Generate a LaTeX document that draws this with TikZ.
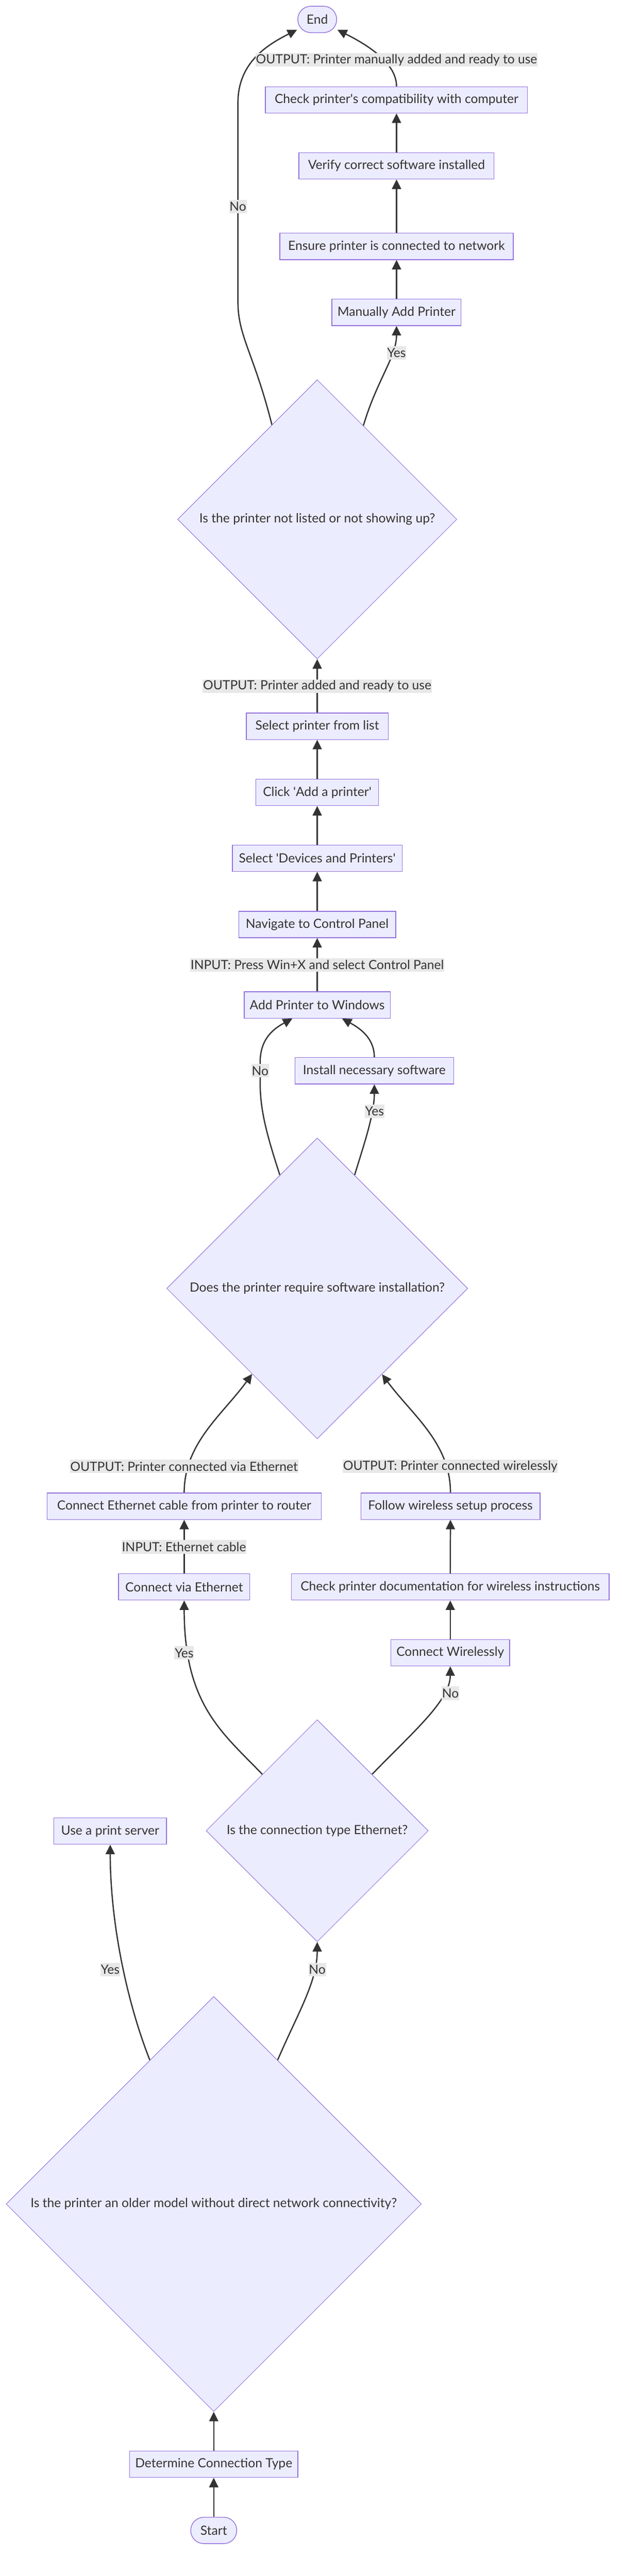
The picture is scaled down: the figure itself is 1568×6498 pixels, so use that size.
\documentclass[tikz,border=0pt]{standalone}
\usepackage{fontspec}
\setmainfont{Lato}
\usetikzlibrary{arrows.meta,shapes.geometric,calc}
\definecolor{nfill}{HTML}{ECECFF}
\definecolor{nborder}{HTML}{9370DB}
\definecolor{ntext}{HTML}{333333}
\definecolor{elabel}{HTML}{E8E8E8}
\pgfdeclarelayer{bglayer}
\pgfdeclarelayer{edgelayer}
\pgfsetlayers{bglayer,edgelayer,main}
\newcommand\nfont{\fontsize{32}{38}\selectfont}
\tikzset{
 proc/.style={rectangle, draw=nborder, fill=nfill, line width=1.8pt, minimum height=66.5pt, inner xsep=14pt, inner ysep=0pt, text=ntext, font=\nfont},
 term/.style={proc, rounded corners=33pt},
 decision/.style={diamond, aspect=1, draw=nborder, fill=nfill, line width=1.3pt, inner sep=0pt, text=ntext, font=\nfont},
 elab/.style={fill=elabel, text=ntext, font=\nfont, inner xsep=1pt, inner ysep=0pt, minimum height=34pt},
 flow/.style={draw=ntext, line width=3.2pt, -{Triangle[length=24pt,width=23pt]}},
}
\begin{document}
\begin{tikzpicture}[x=1pt,y=-1pt]
\begin{pgfonlayer}{bglayer}
\fill[white] (0,0) rectangle (1568,6498);
\end{pgfonlayer}
\useasboundingbox (0,0) rectangle (1568,6498);
% nodes
\node[term, minimum width=98pt] (endn) at (800,49) {End};
\node[proc, minimum width=661pt] (chk) at (1000,252) {Check printer\textquotesingle s compatibility with computer};
\node[proc, minimum width=492pt] (ver) at (1000,418.5) {Verify correct software installed};
\node[proc, minimum width=589pt] (ens) at (1000,621.5) {Ensure printer is connected to network};
\node[proc, minimum width=325pt] (map) at (1000,788) {Manually Add Printer};
\node[decision, minimum width=704pt, minimum height=704pt] (d1) at (800,1310) {\makebox[0pt]{Is the printer not listed or not showing up?}};
\node[proc, minimum width=358pt] (spl) at (800,1832) {Select printer from list};
\node[proc, minimum width=309pt] (cap) at (800,1999) {Click \textquotesingle Add a printer\textquotesingle};
\node[proc, minimum width=428pt] (sdp) at (800,2165) {Select \textquotesingle Devices and Printers\textquotesingle};
\node[proc, minimum width=396pt] (nav) at (800,2332) {Navigate to Control Panel};
\node[proc, minimum width=365.5pt] (apw) at (800,2535) {Add Printer to Windows};
\node[proc, minimum width=400pt] (isw) at (944,2701) {Install necessary software};
\node[decision, minimum width=759pt, minimum height=759pt] (d2) at (800,3250) {\makebox[0pt]{Does the printer require software installation?}};
\node[proc, minimum width=691pt] (cec) at (464.5,3799.5) {Connect Ethernet cable from printer to router};
\node[proc, minimum width=452pt] (fws) at (1136,3799.5) {Follow wireless setup process};
\node[proc, minimum width=331pt] (cve) at (464.5,4003) {Connect via Ethernet};
\node[proc, minimum width=801pt] (cpd) at (1135.5,4003) {Check printer documentation for wireless instructions};
\node[proc, minimum width=299pt] (cw) at (1135.5,4169) {Connect Wirelessly};
\node[decision, minimum width=560pt, minimum height=560pt] (d3) at (800,4618) {\makebox[0pt]{Is the connection type Ethernet?}};
\node[proc, minimum width=284pt] (ups) at (278,4619) {Use a print server};
\node[decision, minimum width=1047pt, minimum height=1047pt] (d4) at (539,5559.5) {\makebox[0pt]{Is the printer an older model without direct network connectivity?}};
\node[proc, minimum width=424pt] (det) at (539,6216) {Determine Connection Type};
\node[term, minimum width=116pt] (start) at (539,6383) {Start};
% edge labels
\node[elab] (l1) at (1000,151) {OUTPUT: Printer manually added and ready to use};
\node[elab] (l2) at (600,521) {No};
\node[elab] (l3) at (1000,890) {Yes};
\node[elab] (l4) at (800,1731) {OUTPUT: Printer added and ready to use};
\node[elab] (l5) at (800,2434) {INPUT: Press Win+X and select Control Panel};
\node[elab] (l6) at (656,2701) {No};
\node[elab] (l7) at (944.5,2803) {Yes};
\node[elab] (l8) at (464,3699) {OUTPUT: Printer connected via Ethernet};
\node[elab] (l9) at (1135.5,3699) {OUTPUT: Printer connected wirelessly};
\node[elab] (l10) at (464,3902) {INPUT: Ethernet cable};
\node[elab] (l11) at (464.5,4169.5) {Yes};
\node[elab] (l12) at (1136,4271) {No};
\node[elab] (l13) at (278,4968) {Yes};
\node[elab] (l14) at (800,4968) {No};
% edges
\begin{pgfonlayer}{edgelayer}
\draw[flow] (start.north) -- (det.south);
\draw[flow] (det.north) -- (d4.south);
\draw[flow] ($(d4.north)!0.3075!(d4.west)$) .. controls (320,5050) and (278,4850) .. (ups.south);
\draw[flow] ($(d4.north)!0.3075!(d4.east)$) .. controls (750,5080) and (800,5000) .. (d3.south);
\draw[flow] ($(d3.north)!0.493!(d3.west)$) .. controls (560,4370) and (464.5,4300) .. (cve.south);
\draw[flow] ($(d3.north)!0.493!(d3.east)$) .. controls (1040,4370) and (1135.5,4290) .. (cw.south);
\draw[flow] (cve.north) -- (cec.south);
\draw[flow] (cw.north) -- (cpd.south);
\draw[flow] (cpd.north) -- (fws.south);
\draw[flow] (cec.north) .. controls (464.5,3640) and (560,3570) .. ($(d2.south)!0.432!(d2.west)$);
\draw[flow] (fws.north) .. controls (1136,3640) and (1040,3570) .. ($(d2.south)!0.43!(d2.east)$);
\draw[flow] ($(d2.north)!0.248!(d2.west)$) .. controls (672,2860) and (656,2800) .. (656,2730) -- (656,2680) .. controls (656,2620) and (690,2595) .. ($(apw.south west)+(122.5,0)$);
\draw[flow] ($(d2.north)!0.248!(d2.east)$) .. controls (920,2880) and (944,2810) .. (isw.south);
\draw[flow] (isw.north) .. controls (944,2620) and (910,2595) .. ($(apw.south east)+(-122.5,0)$);
\draw[flow] (apw.north) -- (nav.south);
\draw[flow] (nav.north) -- (sdp.south);
\draw[flow] (sdp.north) -- (cap.south);
\draw[flow] (cap.north) -- (spl.south);
\draw[flow] (spl.north) -- (d1.south);
\draw[flow] ($(d1.north)!0.33!(d1.east)$) .. controls (950,960) and (1000,900) .. (map.south);
\draw[flow] ($(d1.north)!0.324!(d1.west)$) .. controls (640,890) and (600,850) .. (600,760) -- (600,260) .. controls (600,160) and (670,115) .. ($(endn.south west)+(-1,-8)$);
\draw[flow] (map.north) -- (ens.south);
\draw[flow] (ens.north) -- (ver.south);
\draw[flow] (ver.north) -- (chk.south);
\draw[flow] (chk.north) .. controls (1000,160) and (930,115) .. ($(endn.south east)+(1,-8)$);
\end{pgfonlayer}
\end{tikzpicture}
\end{document}
